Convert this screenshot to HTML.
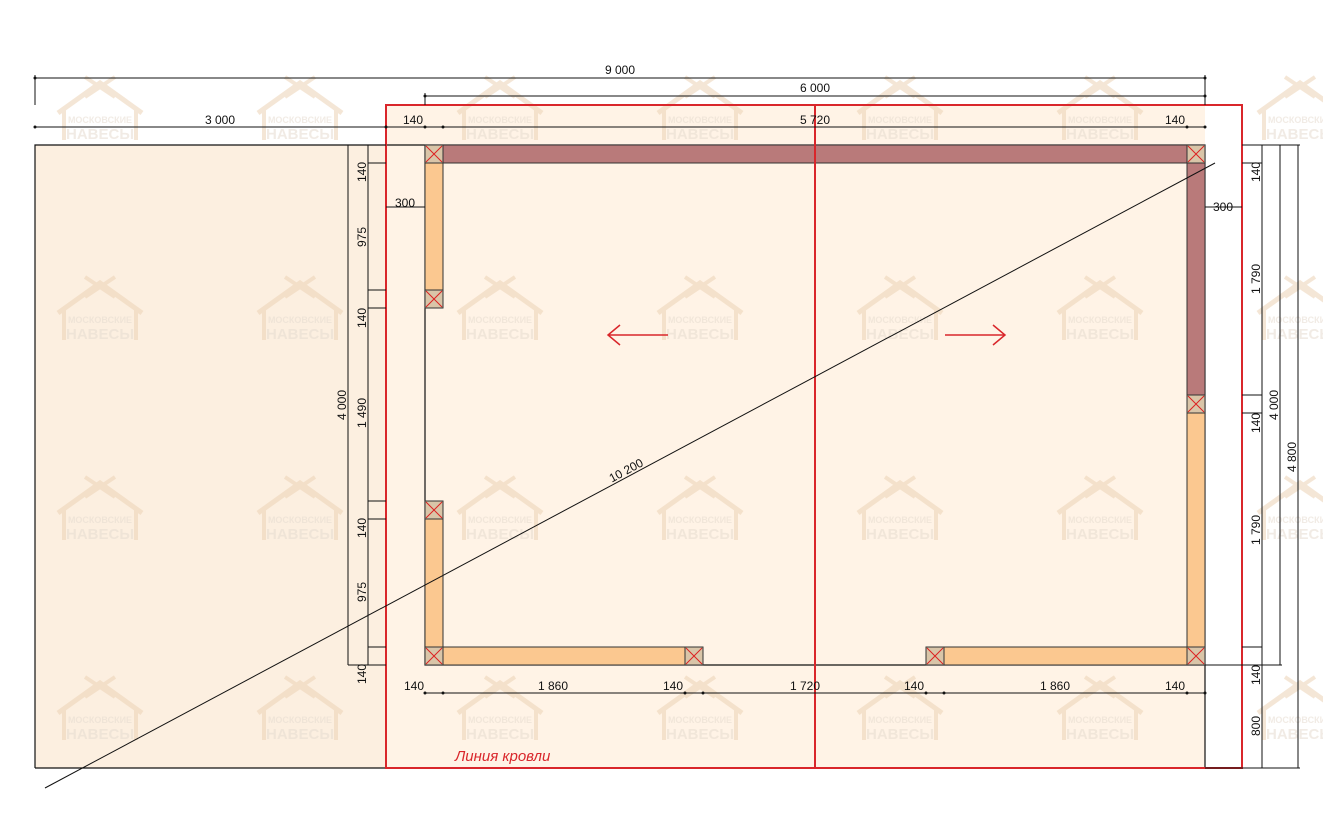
<!DOCTYPE html>
<html><head><meta charset="utf-8"><style>body{margin:0;background:#fff}svg{display:block}text{font-family:"Liberation Sans","DejaVu Sans",sans-serif;font-size:12px;fill:#111}</style></head><body>
<svg width="1323" height="833" viewBox="0 0 1323 833" xmlns="http://www.w3.org/2000/svg">
<defs>
<g id="wm" opacity="0.55">
<path d="M-42,18 L0,-12 L42,18" stroke="#ecd3b6" stroke-width="5" fill="none"/>
<path d="M-15,-18 L15,2 M15,-18 L-15,2" stroke="#ecd3b6" stroke-width="4"/>
<rect x="-38" y="15" width="4" height="30" fill="#ecd3b6"/><rect x="34" y="15" width="4" height="30" fill="#ecd3b6"/>
<text x="0" y="28" text-anchor="middle" style="font-size:9px;font-weight:bold;fill:#e6dcd0">МОСКОВСКИЕ</text>
<text x="0" y="44" text-anchor="middle" style="font-size:15px;font-weight:bold;fill:#e6dcd0">НАВЕСЫ</text>
</g>
<g id="post"><rect width="18" height="18" fill="#d9c5a8" stroke="#333" stroke-width="1"/><path d="M1,1L17,17M17,1L1,17" stroke="#d22" stroke-width="1"/></g>
</defs>
<!-- fills -->
<rect x="35" y="145" width="351" height="623" fill="#fcefe0"/>
<rect x="386" y="105" width="856" height="663" fill="#fff3e6"/>
<rect x="1205" y="105" width="37" height="663" fill="#fff"/>
<rect x="1205" y="105" width="37" height="663" fill="#fff3e6" opacity="0"/>
<!-- watermarks -->
<g>
<use href="#wm" x="100" y="95"/><use href="#wm" x="300" y="95"/><use href="#wm" x="500" y="95"/><use href="#wm" x="700" y="95"/><use href="#wm" x="900" y="95"/><use href="#wm" x="1100" y="95"/><use href="#wm" x="1300" y="95"/>
<use href="#wm" x="100" y="295"/><use href="#wm" x="300" y="295"/><use href="#wm" x="500" y="295"/><use href="#wm" x="700" y="295"/><use href="#wm" x="900" y="295"/><use href="#wm" x="1100" y="295"/><use href="#wm" x="1300" y="295"/>
<use href="#wm" x="100" y="495"/><use href="#wm" x="300" y="495"/><use href="#wm" x="500" y="495"/><use href="#wm" x="700" y="495"/><use href="#wm" x="900" y="495"/><use href="#wm" x="1100" y="495"/><use href="#wm" x="1300" y="495"/>
<use href="#wm" x="100" y="695"/><use href="#wm" x="300" y="695"/><use href="#wm" x="500" y="695"/><use href="#wm" x="700" y="695"/><use href="#wm" x="900" y="695"/><use href="#wm" x="1100" y="695"/><use href="#wm" x="1300" y="695"/>
</g>
<!-- outlines -->
<g stroke="#111" stroke-width="1.2" fill="none">
<path d="M35,768 L35,145 L1205,145 L1205,768 L35,768"/>
<path d="M425,145 L425,665 L1205,665"/>
</g>
<!-- walls -->
<g stroke="#333" stroke-width="1">
<rect x="443" y="145" width="744" height="18" fill="#b97a7a"/>
<rect x="1187" y="163" width="18" height="232" fill="#b97a7a"/>
<rect x="1187" y="413" width="18" height="234" fill="#fbc890"/>
<rect x="425" y="163" width="18" height="127" fill="#fbc890"/>
<rect x="425" y="519" width="18" height="128" fill="#fbc890"/>
<rect x="443" y="647" width="242" height="18" fill="#fbc890"/>
<rect x="944" y="647" width="243" height="18" fill="#fbc890"/>
</g>
<use href="#post" x="425" y="145"/><use href="#post" x="1187" y="145"/><use href="#post" x="425" y="290"/><use href="#post" x="425" y="501"/><use href="#post" x="425" y="647"/><use href="#post" x="685" y="647"/><use href="#post" x="926" y="647"/><use href="#post" x="1187" y="647"/><use href="#post" x="1187" y="395"/>
<!-- roof -->
<g stroke="#d9262b" stroke-width="2" fill="none">
<rect x="386" y="105" width="856" height="663"/>
<path d="M815,105V768"/>
<path d="M668,335H608M620,325L608,335L620,345M945,335H1005M993,325L1005,335L993,345" stroke-width="1.5"/>
</g>
<text x="455" y="761" style="fill:#d9262b;font-size:15px;font-style:italic">Линия кровли</text>
<!-- dimension lines -->
<g stroke="#111" stroke-width="1">
<path d="M35,78H1205M35,75V105M1205,75V100M425,96H1205M425,93V105M1205,93V105M35,127H1205"/>
<path d="M348,145V665M368,145V665M348,145H386M348,665H386M368,163H386M368,290H386M368,308H386M368,501H386M368,519H386M368,647H386"/>
<path d="M386,207H425M1205,207H1242"/>
<path d="M1262,145V768M1280,145V665M1298,145V768M1242,145H1300M1242,163H1262M1242,395H1262M1242,413H1262M1242,647H1262M1205,665H1282M1205,768H1300"/>
<path d="M425,693H1205"/>
<path d="M45,788L1215,163"/>
</g>
<g fill="#111">
<circle cx="35" cy="78" r="1.5"/><circle cx="1205" cy="78" r="1.5"/><circle cx="425" cy="96" r="1.5"/><circle cx="1205" cy="96" r="1.5"/>
<circle cx="35" cy="127" r="1.5"/><circle cx="386" cy="127" r="1.5"/><circle cx="425" cy="127" r="1.5"/><circle cx="443" cy="127" r="1.5"/><circle cx="1187" cy="127" r="1.5"/><circle cx="1205" cy="127" r="1.5"/>
<circle cx="425" cy="693" r="1.5"/><circle cx="443" cy="693" r="1.5"/><circle cx="685" cy="693" r="1.5"/><circle cx="703" cy="693" r="1.5"/><circle cx="926" cy="693" r="1.5"/><circle cx="944" cy="693" r="1.5"/><circle cx="1187" cy="693" r="1.5"/><circle cx="1205" cy="693" r="1.5"/>
</g>
<!-- texts -->
<text x="620" y="74" text-anchor="middle">9 000</text>
<text x="815" y="92" text-anchor="middle">6 000</text>
<text x="220" y="124" text-anchor="middle">3 000</text>
<text x="413" y="124" text-anchor="middle">140</text>
<text x="815" y="124" text-anchor="middle">5 720</text>
<text x="1175" y="124" text-anchor="middle">140</text>
<text x="405" y="207" text-anchor="middle">300</text>
<text x="1223" y="211" text-anchor="middle">300</text>
<text x="414" y="690" text-anchor="middle">140</text>
<text x="553" y="690" text-anchor="middle">1 860</text>
<text x="673" y="690" text-anchor="middle">140</text>
<text x="805" y="690" text-anchor="middle">1 720</text>
<text x="914" y="690" text-anchor="middle">140</text>
<text x="1055" y="690" text-anchor="middle">1 860</text>
<text x="1175" y="690" text-anchor="middle">140</text>
<g text-anchor="middle">
<text transform="translate(366,172) rotate(-90)">140</text>
<text transform="translate(366,237) rotate(-90)">975</text>
<text transform="translate(366,318) rotate(-90)">140</text>
<text transform="translate(366,413) rotate(-90)">1 490</text>
<text transform="translate(366,528) rotate(-90)">140</text>
<text transform="translate(366,592) rotate(-90)">975</text>
<text transform="translate(366,674) rotate(-90)">140</text>
<text transform="translate(346,405) rotate(-90)">4 000</text>
<text transform="translate(1260,172) rotate(-90)">140</text>
<text transform="translate(1260,279) rotate(-90)">1 790</text>
<text transform="translate(1260,423) rotate(-90)">140</text>
<text transform="translate(1260,530) rotate(-90)">1 790</text>
<text transform="translate(1260,675) rotate(-90)">140</text>
<text transform="translate(1260,726) rotate(-90)">800</text>
<text transform="translate(1278,405) rotate(-90)">4 000</text>
<text transform="translate(1296,457) rotate(-90)">4 800</text>
<text transform="translate(628,474) rotate(-28.1)">10 200</text>
</g>
</svg>
</body></html>
